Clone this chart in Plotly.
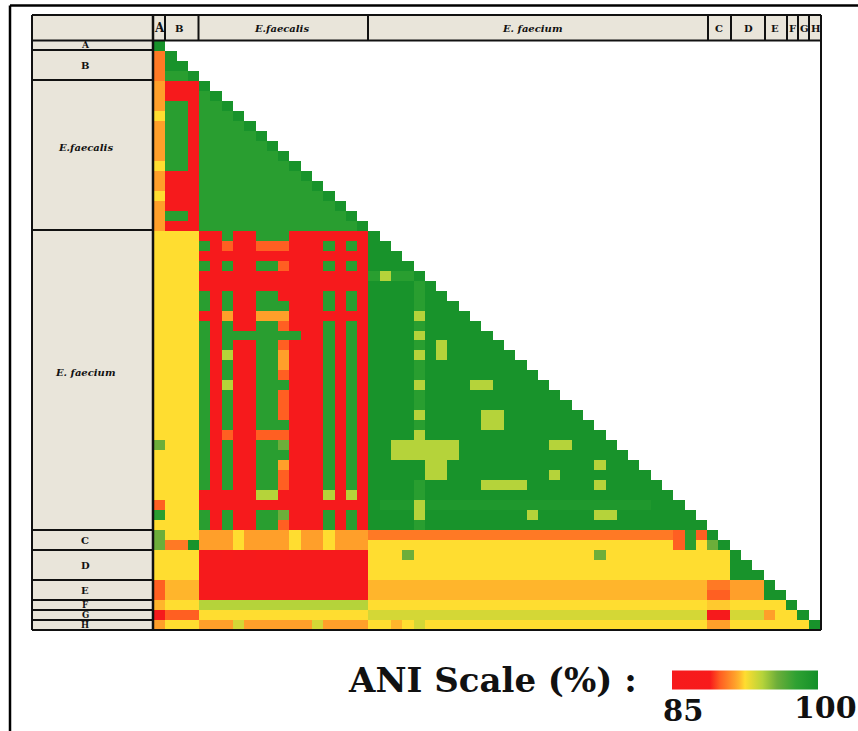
import plotly.graph_objects as go

# ANI value (%) for each cell code
CODE_VALUES = {"r": 85.5, "x": 87.0, "s": 89.95, "t": 90.55, "o": 91.45, "p": 91.9, "q": 92.2,
               "y": 92.5, "i": 93.55, "k": 94.3, "m": 95.8, "g": 98.2, "e": 99.0, "d": 99.55}

# lower triangle; groups: A | B | E.faecalis | E. faecium | C | D | E | F | G | H
ROWS_TOP = [
    "d", "t d", "t dd", "t ggd",
    "o rrr d", "o rrr gd", "o ggr ggd", "y ggr gggd", "o ggr ggggd", "o ggr gggggd",
    "o ggr ggggggd", "o ggr gggggggd", "y ggr ggggggggd", "o rrr gggggggggd",
    "o rrr ggggggggggd", "y rrr gggggggggggd", "o rrr ggggggggggggd",
    "o ggr gggggggggggggd", "o rrr ggggggggggggggd",
]
ROWS_FAECIUM = [
    "y yyy rrgrrgggrrrrrrr d",
    "y yyy grsrrsssrrrgrgr dd",
    "y yyy rrrrrrrrrrrrrrr ddd",
    "y yyy grgrrggsrrrgrgr dddd",
    "y yyy rrrrrrrrrrrrrrr gkggd",
    "y yyy rrrrrrrrrrrrrrr ddddg d",
    "y yyy grgrrggrrrrgrgr ddddg dd",
    "y yyy grgrrgggrrrgrgr ddddg ddd",
    "y yyy rrorrooorrrrrrr ddddk dddd",
    "y yyy grgrrggsrrrgrgr ddddg ddddd",
    "y yyy grgggggggrrgrgr ddddk ddddd d",
    "y yyy grgrrggsrrrgrgr ddddg dkddd dd",
    "y yyy grkrrggorrrgrgr ddddk dkddd ddd",
    "y yyy grgrrggorrrgrgr ddddg ddddd dddd",
    "y yyy grgrrggsrrrgrgr ddddg ddddd ddddd",
    "y yyy grkrrgggrrrgrgr ddddk ddddk kdddd d",
    "y yyy grgrrggsrrrgrgr ddddg ddddd ddddd dd",
    "y yyy grgrrggsrrrgrgr ddddg ddddd ddddd ddd",
    "y yyy grgrrggsrrrgrgr ddddk ddddd kkddd dddd",
    "y yyy grgrrgggrrrgrgr ddddg ddddd kkddd ddddd",
    "y yyy grsrrsssrrrgrgr ddddk ddddd ddddd ddddd d",
    "m yyy grgrrggmrrrgrgr ddkkk kkkdd ddddd dkkdd dd",
    "y yyy grgrrgggrrrgrgr ddkkk kkkdd ddddd ddddd ddd",
    "y yyy grgrrggorrrgrgr ddddd kkddd ddddd ddddd kddd",
    "y yyy grgrrggsrrrgrgr ddddd kkddd ddddd dkddd ddddd",
    "y yyy grgrrggsrrrgrgr ddddg ddddd kkkkd ddddd kdddd d",
    "y yyy rrrrrkkrrrrkrkr ddddg ddddd ddddd ddddd ddddd dd",
    "s yyy rrrrrrrrrrrrrrr deeek eeeee eeeee eeeee eeeee ddd",
    "g yyy grgrrggmrrrgrgr ddddk ddddd ddddk ddddd kkddd dddd",
    "y yyy grgrrggsrrrgrgr ddddg ddddd ddddd ddddd ddddd ddddd",
]
ROWS_BOTTOM = [
    "m yyy oooyooooyooyooo ttttt ttttt ttttt ttttt ttttt ttsgs d",
    "m ttd oooyooooyooyooo yyyyy yyyyy yyyyy yyyyy yyyyy yysgy m d",
    "y yyy rrxrrxxxrrrrrrr yyymy yyyyy yyyyy yyyyy myyyy yyyyy yy d",
    "y yyy rrrrrrrrrrrrrrr yyyyy yyyyy yyyyy yyyyy yyyyy yyyyy yy dd",
    "y yyy rrrrrrrrrrrrrrr yyyyy yyyyy yyyyy yyyyy yyyyy yyyyy yy ddd",
    "s ppp rrrrrrrrrrrrrrr ppppp ppppp ppppp ppppp ppppp ppppp tt ooo d",
    "s ppp rrrrrrrrrrrrrrr ppppp ppppp ppppp ppppp ppppp ppppp ss ooo dd",
    "p yyy kkkkkkkkkkkkkkk yyyyy yyyyy yyyyy yyyyy yyyyy yyyyy qq yyy yy d",
    "r sss yyyyyyyyyyyyyyy iiiii iiiii iiiii iiiii iiiii iiiii rr iii oy y d",
    "o yyy oooiooooooioooo yypyi yyyyy yyyyy yyyyy yyyyy yyyyy oo yyy yy y y d",
]

HEADER_LABELS = ["A", "B", "<i>E.faecalis</i>", "<i>E. faecium</i>", "C", "D", "E", "F", "G", "H"]
HEADER_X = [159, 179, 281, 532, 719, 748, 775, 792.5, 804, 815]
HEADER_SIZE = [12, 10, 10, 10, 10, 10, 10, 10, 10, 10]
HEADER_EDGES = [153, 165, 198.5, 368, 708, 731, 765, 787, 798, 809, 821]
SIDE_LABELS = ["A", "B", "<i>E.faecalis</i>", "<i>E. faecium</i>", "C", "D", "E", "F", "G", "H"]
SIDE_Y = [45, 65, 147, 372, 540, 565, 590, 605, 615, 625]
SIDE_SIZE = [9, 10, 10, 10, 10, 10, 10, 8.5, 8.5, 8.5]
SIDE_EDGES = [40.5, 50, 80, 230, 530, 550, 580, 600, 610, 620, 630]

W, H = 858, 731
px = lambda v: v / W
py = lambda v: 1 - v / H

rows = [r.replace(" ", "") for r in ROWS_TOP + ROWS_FAECIUM + ROWS_BOTTOM]
n = len(rows)
z = [[CODE_VALUES[c] for c in r] + [None] * (n - len(r)) for r in rows]
for i, r in enumerate(rows):
    assert len(r) == i + 1, (i, len(r))

colorscale = [[0, "#F61A1C"], [0.26, "#F81A1B"], [0.33, "#FF5F22"], [0.43, "#FF9F2A"],
              [0.46, "#FFB52C"], [0.50, "#FFDD30"], [0.62, "#B5D33A"], [0.72, "#6DAE3A"],
              [0.85, "#2FA132"], [1, "#129029"]]

fig = go.Figure(go.Heatmap(
    z=z, zmin=85, zmax=100, colorscale=colorscale, hoverongaps=False,
    colorbar=dict(orientation="h", x=px(672), xanchor="left", y=py(680), yanchor="middle",
                  lenmode="pixels", len=146, thicknessmode="pixels", thickness=19,
                  outlinewidth=0, ticks="", showticklabels=False, xpad=0, ypad=0),
))

LINE = dict(color="#111111", width=2)
shapes = [
    dict(type="rect", xref="paper", yref="paper", x0=px(32), x1=px(821), y0=py(15), y1=py(40.5),
         fillcolor="#E9E5DA", line=dict(width=0), layer="below"),
    dict(type="rect", xref="paper", yref="paper", x0=px(32), x1=px(153), y0=py(40.5), y1=py(630),
         fillcolor="#E9E5DA", line=dict(width=0), layer="below"),
]
def seg(x0, y0, x1, y1, line=LINE):
    shapes.append(dict(type="line", xref="paper", yref="paper", x0=px(x0), x1=px(x1),
                       y0=py(y0), y1=py(y1), line=line))
seg(10, 5.5, 858, 5.5, dict(color="#000000", width=2.5))
seg(10, 5.5, 10, 731, dict(color="#000000", width=2.5))
seg(32, 15, 821, 15)
seg(32, 15, 32, 630)
seg(821, 15, 821, 630)
seg(153, 15, 153, 630, dict(color="#111111", width=2.5))
seg(32, 40.5, 821, 40.5)
seg(32, 630, 821, 630)
for e in HEADER_EDGES[1:-1]:
    seg(e, 15, e, 40.5)
for e in SIDE_EDGES[1:-1]:
    seg(32, e, 153, e)

serif = "DejaVu Serif"
ann = []
def txt(x, y, t, size):
    ann.append(dict(xref="paper", yref="paper", x=px(x), y=py(y), text="<b>" + t + "</b>",
                    showarrow=False, xanchor="center", yanchor="middle",
                    font=dict(family=serif, size=size, color="#111111")))
for t, x, s in zip(HEADER_LABELS, HEADER_X, HEADER_SIZE):
    txt(x, 28.5, t, s)
for t, y, s in zip(SIDE_LABELS, SIDE_Y, SIDE_SIZE):
    txt(85, y, t, s)
txt(492, 680, "ANI Scale (%) :", 34)
txt(683, 711, "85", 29)
txt(825, 707, "100", 30)

fig.update_layout(
    width=W, height=H, margin=dict(l=0, r=0, t=0, b=0, pad=0),
    paper_bgcolor="white", plot_bgcolor="white", showlegend=False,
    xaxis=dict(visible=False, domain=[px(154), px(820)], range=[-0.5, n - 0.5]),
    yaxis=dict(visible=False, domain=[py(629.5), py(41)], range=[n - 0.5, -0.5]),
    shapes=shapes, annotations=ann,
)
fig.write_html("out.html", config={"displayModeBar": False},
               post_script="document.body.style.margin='0';document.body.style.overflow='hidden';")
